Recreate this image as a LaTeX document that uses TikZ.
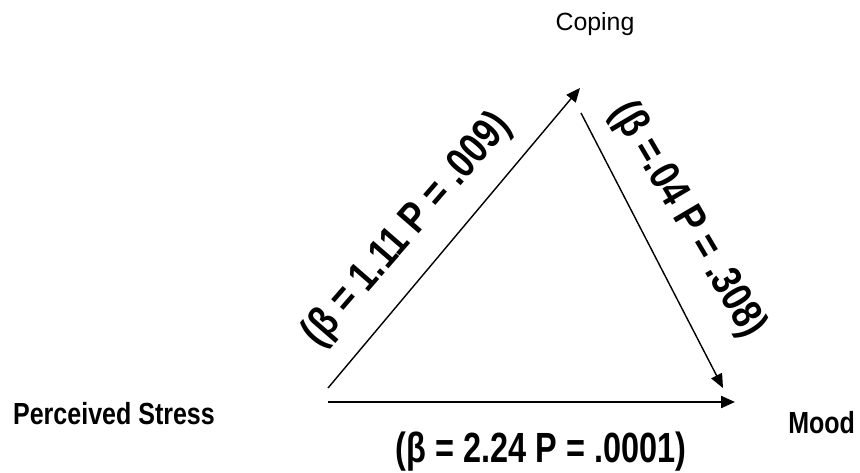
\documentclass[tikz,border=0pt]{standalone}
\usepackage{fontspec}
\setmainfont{Liberation Sans}
\usepackage{graphicx}
\usepackage{tikz}
\usetikzlibrary{arrows.meta, positioning}
\def\bigSize{25}
\def\smallSize{17.8}
\newcommand{\tallbf}[2]{%
% #1 = font size in pt, #2 = text
\scalebox{1}[1.22]{\fontsize{#1}{#1}\selectfont\bfseries #2}}

\begin{document}
\begin{tikzpicture}[
    >={Triangle[length=3.5mm,width=3mm]},
    every node/.style={inner sep=0pt}
]
\useasboundingbox (0,0) rectangle (21.5,11.8);
% variables
\node (coping) at (14.875,11.21) {\fontsize{17.7}{17.7}\selectfont Coping};
\node (stress) at (2.85,1.45) {\tallbf{\smallSize}{Perceived Stress}};
\node (mood) at (20.54,1.225) {\tallbf{\smallSize}{Mood}};
% arrow ends
\coordinate (s1) at (8.2,2.1);
\coordinate (s2) at (8.2,1.75);
\coordinate (c1) at (14.5,9.6);
\coordinate (c2) at (14.525,8.975);
\coordinate (m1) at (18.075,2.1);
\coordinate (m2) at (18.375,1.75);
\draw[->, line width=1pt] (s1) -- (c1);
\draw[->, line width=1pt] (c2) -- (m1);
\draw[->, line width=1.6pt] (s2) -- (m2);
% coefficients
\node[rotate=49] (b1) at (10.19,6.04) {\tallbf{\bigSize}{(β = 1.11 P = .009)}};
\node[rotate=-59.5] (b2) at (17.19,6.3) {\tallbf{\bigSize}{(β =.04 P = .308)}};
\node (b3) at (13.525,0.5) {\scalebox{1}[1.3]{\fontsize{23.1}{23.1}\selectfont\bfseries (β = 2.24 P = .0001)}};
\end{tikzpicture}
\end{document}
